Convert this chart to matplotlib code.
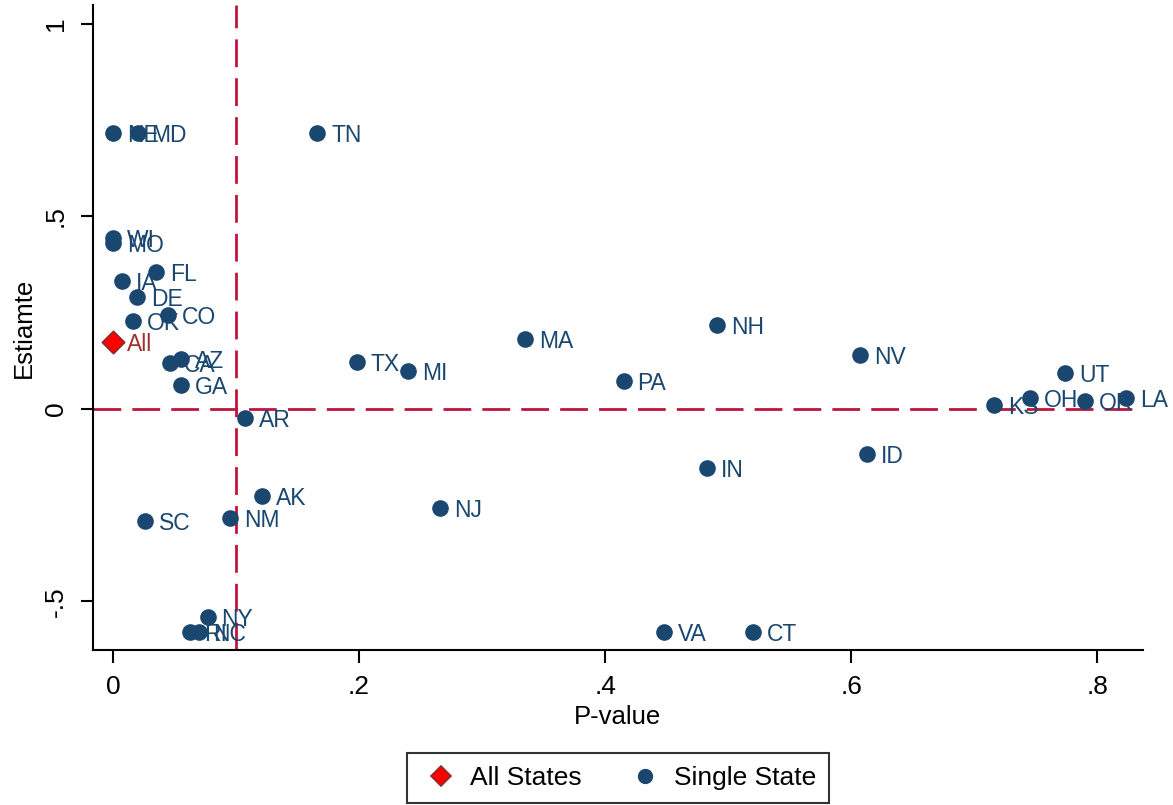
import matplotlib
matplotlib.use("Agg")
import matplotlib.pyplot as plt
from matplotlib.lines import Line2D

plt.rcParams['font.family'] = ['Liberation Sans', 'DejaVu Sans']

# single-state estimates
states = ["NE", "MD", "TN", "WI", "MO", "IA", "FL", "DE", "OK", "CO",
          "CA", "AZ", "GA", "AR", "AK", "SC", "NM", "NY", "RI", "NC",
          "TX", "MI", "MA", "PA", "NJ", "NH", "IN", "NV", "ID", "VA",
          "CT", "UT", "KS", "OH", "OR", "LA"]
pvals = [0.000, 0.020, 0.166, 0.000, 0.000, 0.007, 0.035, 0.0195, 0.016, 0.045,
         0.046, 0.055, 0.055, 0.107, 0.121, 0.026, 0.095, 0.077, 0.0625, 0.070,
         0.198, 0.240, 0.335, 0.415, 0.266, 0.491, 0.483, 0.607, 0.613, 0.448,
         0.520, 0.774, 0.716, 0.745, 0.790, 0.823]
estimates = [0.717, 0.717, 0.717, 0.444, 0.431, 0.332, 0.356, 0.291, 0.229, 0.244,
             0.119, 0.130, 0.062, -0.023, -0.226, -0.291, -0.283, -0.540, -0.579, -0.579,
             0.122, 0.099, 0.182, 0.073, -0.257, 0.218, -0.153, 0.140, -0.117, -0.579,
             -0.579, 0.094, 0.010, 0.029, 0.021, 0.029]

all_p = [0.0]
all_est = [0.174]

navy = "#1a476f"
red_line = "#c0143c"

fig = plt.figure(figsize=(11.73, 8.05), dpi=100)
ax = fig.add_axes([93/1173, 155/805, 1050/1173, 645/805])

ax.axvline(0.1, color=red_line, lw=2, ls=(0, (10, 4)), zorder=1)
ax.axhline(0.0, color=red_line, lw=2, ls=(0, (10, 4)), zorder=1)

ax.scatter(pvals, estimates, s=120, color=navy, zorder=4)
for s, x, y in zip(states, pvals, estimates):
    ax.annotate(s, (x, y), xytext=(10, -2), textcoords="offset points",
                va="center", ha="left", fontsize=16.5, color=navy, zorder=3)

ax.scatter(all_p, all_est, s=130, marker="D", color="red", edgecolor="#8b2a2a",
           linewidth=1.2, zorder=5)
ax.annotate("All", (all_p[0], all_est[0]), xytext=(10, -2), textcoords="offset points",
            va="center", ha="left", fontsize=16.5, color="#a03030", zorder=3)

ax.set_xlim(-0.0162, 0.837)
ax.set_ylim(-0.626, 1.049)
ax.set_xticks([0, 0.2, 0.4, 0.6, 0.8])
ax.set_xticklabels(["0", ".2", ".4", ".6", ".8"])
ax.set_yticks([-0.5, 0, 0.5, 1])
ax.set_yticklabels(["-.5", "0", ".5", "1"], rotation=90, va="center")
ax.tick_params(axis="both", labelsize=19, length=9, width=1.5, pad=9, direction="out")

for side in ["top", "right"]:
    ax.spines[side].set_visible(False)
for side in ["left", "bottom"]:
    ax.spines[side].set_linewidth(1.5)

ax.set_xlabel("P-value", fontsize=18.5, labelpad=4)
ax.set_ylabel("Estiamte", fontsize=18.5, labelpad=6)

handles = [
    Line2D([], [], marker="D", ls="none", markersize=10, markerfacecolor="red",
           markeredgecolor="#8b2a2a", markeredgewidth=1.2, label="All States"),
    Line2D([], [], marker="o", ls="none", markersize=10, color=navy, label="Single State"),
]
leg = fig.legend(handles=handles, loc="lower center", bbox_to_anchor=(618/1173, 2/805),
                 ncol=2, fontsize=19, frameon=True, fancybox=False, edgecolor="black",
                 columnspacing=1.6, handletextpad=0.3, handlelength=1.6,
                 borderpad=0.5, borderaxespad=0)
leg.get_frame().set_linewidth(1.5)

fig.savefig("out.png", dpi=100)
